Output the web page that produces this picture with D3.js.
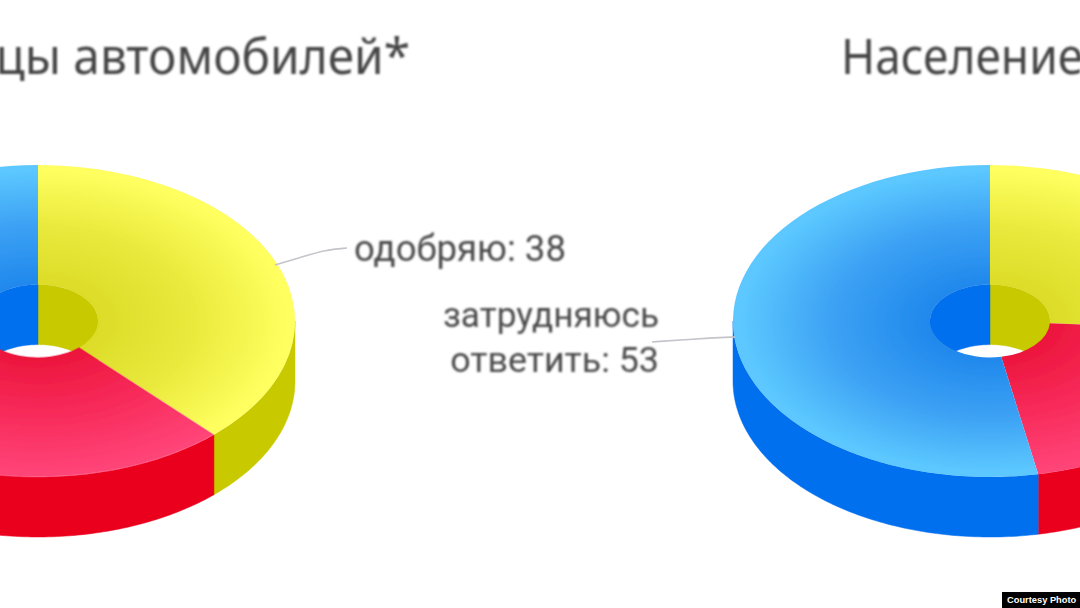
<!DOCTYPE html>
<html><head><meta charset="utf-8">
<script src="https://cdn.jsdelivr.net/npm/d3@7"></script>
<style>html,body{margin:0;padding:0;background:#fff;overflow:hidden}svg{display:block}</style>
</head><body><div id="c"></div>
<script>
const categories = ["одобряю", "не одобряю", "затрудняюсь ответить"];
const ownersValues = [38, 34, 28];
const populationValues = [26, 21, 53];
const titles = ["цы автомобилей*", "Население"];
const colorsEdge = ["#ffff60", "#ff4478", "#5cc8ff"];
const colorsMid = ["#eaea3e", "#f82c5c", "#3ca2f4"];
const colorsInner = ["#dcdc28", "#ec163c", "#2088ec"];
const colorsWall = ["#c9c900", "#ea001e", "#006fee"];

const W = 1080, H = 608;
const RX = 257, RI = 60, RATIO = 0.607, DEPTH = 60, CY = 321;
const svg = d3.select("#c").append("svg").attr("width", W).attr("height", H);
const defs = svg.append("defs");
defs.append("filter").attr("id", "soft").attr("x", "-5%").attr("y", "-5%").attr("width", "110%").attr("height", "110%")
  .append("feGaussianBlur").attr("stdDeviation", 0.7);
defs.append("filter").attr("id", "softT").attr("x", "-5%").attr("y", "-20%").attr("width", "110%").attr("height", "140%")
  .append("feGaussianBlur").attr("stdDeviation", 0.9);
categories.forEach((c, i) => {
  const g = defs.append("radialGradient").attr("id", "g" + i)
    .attr("gradientUnits", "userSpaceOnUse").attr("cx", 0).attr("cy", 0).attr("r", RX);
  g.append("stop").attr("offset", RI / RX).attr("stop-color", colorsInner[i]);
  g.append("stop").attr("offset", 0.62).attr("stop-color", colorsMid[i]);
  g.append("stop").attr("offset", 0.97).attr("stop-color", colorsEdge[i]);
});

const pie = d3.pie().sort(null);
const arc = d3.arc().innerRadius(RI).outerRadius(RX);
const pointAt = (r, a, dz) => [r * Math.sin(a), -r * RATIO * Math.cos(a) + dz];
function wallPath(r, a0, a1) {
  const n = Math.max(2, Math.ceil((a1 - a0) * 60));
  const as = d3.range(n + 1).map(k => a0 + (a1 - a0) * k / n);
  const top = as.map(a => pointAt(r, a, 0));
  const bot = as.slice().reverse().map(a => pointAt(r, a, DEPTH));
  return d3.line()(top.concat(bot)) + "Z";
}
function donut(cx, values) {
  const g = svg.append("g").attr("filter", "url(#soft)");
  const slices = pie(values);
  const T = 2 * Math.PI;
  slices.forEach((s, i) => {
    [[0, Math.PI / 2], [1.5 * Math.PI, T]].forEach(([lo, hi]) => {
      const a0 = Math.max(s.startAngle, lo), a1 = Math.min(s.endAngle, hi);
      if (a1 > a0) g.append("path").attr("transform", `translate(${cx},${CY})`)
        .attr("d", wallPath(RI, a0, a1)).attr("fill", colorsWall[i]).attr("stroke", colorsWall[i]).attr("stroke-width", 0.5);
    });
  });
  slices.forEach((s, i) => {
    const a0 = Math.max(s.startAngle, Math.PI / 2), a1 = Math.min(s.endAngle, 1.5 * Math.PI);
    if (a1 > a0) g.append("path").attr("transform", `translate(${cx},${CY})`)
      .attr("d", wallPath(RX, a0, a1)).attr("fill", colorsWall[i]).attr("stroke", colorsWall[i]).attr("stroke-width", 0.5);
  });
  slices.forEach((s, i) => {
    g.append("path").attr("transform", `translate(${cx},${CY}) scale(1,${RATIO})`)
      .attr("d", arc(s)).attr("fill", `url(#g${i})`);
  });
}
donut(38, ownersValues);
donut(990, populationValues);

const leader = d3.line().curve(d3.curveBasis);
const leaders = [
  [[275, 265], [305, 256], [325, 250], [347, 248]],
  [[652, 342], [680, 340], [710, 338], [735, 337]]
];
svg.append("g").attr("filter", "url(#soft)").selectAll("path").data(leaders).join("path")
  .attr("d", d => leader(d)).attr("fill", "none").attr("stroke", "#c4c4ca").attr("stroke-width", 1.6);

const t = svg.append("g").attr("filter", "url(#softT)");
t.append("text").attr("x", 410).attr("y", 74).attr("text-anchor", "end")
  .attr("font-family", "'Noto Sans'").attr("font-size", 49).attr("fill", "#444")
  .attr("transform", "translate(410,0) scale(0.975,1) translate(-410,0)").text(titles[0]);
t.append("text").attr("x", 841).attr("y", 74)
  .attr("font-family", "'Noto Sans'").attr("font-size", 49).attr("fill", "#444")
  .attr("transform", "translate(841,0) scale(0.94,1) translate(-841,0)").text(titles[1]);
function label(x, y, anchor, size, s) {
  t.append("text").attr("x", x).attr("y", y).attr("text-anchor", anchor)
    .attr("font-family", "Roboto").attr("font-size", size).attr("fill", "#4a4a4a").text(s);
}
label(354, 261, "start", 36.6, `${categories[0]}: ${ownersValues[0]}`);
label(659, 327, "end", 35.2, "затрудняюсь");
label(659, 372, "end", 35.8, `ответить: ${populationValues[2]}`);

svg.append("rect").attr("x", 1002).attr("y", 592).attr("width", 78).attr("height", 16).attr("fill", "#000");
svg.append("text").attr("x", 1007).attr("y", 603).attr("font-family", "'Liberation Sans'")
  .attr("font-weight", "bold").attr("font-size", 9.3).attr("fill", "#fff").text("Courtesy Photo");
</script></body></html>
